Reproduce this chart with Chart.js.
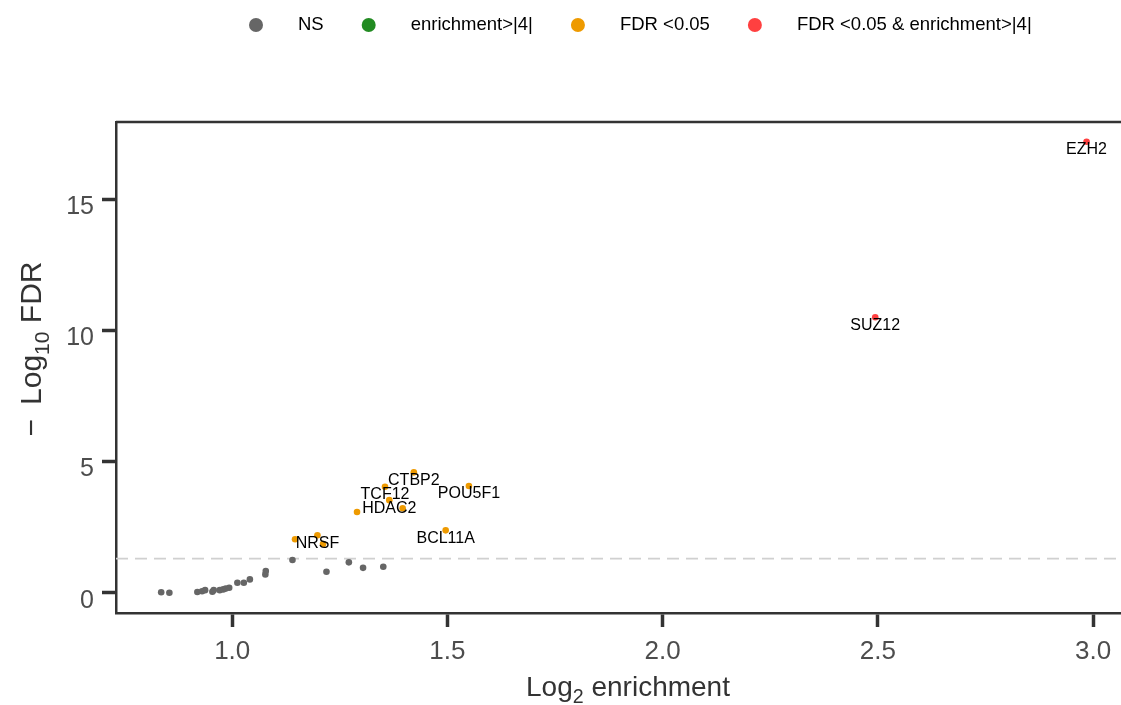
<!DOCTYPE html>
<html>
<head>
<meta charset="utf-8">
<title>Volcano plot</title>
<script src="https://cdn.jsdelivr.net/npm/chart.js@4.4.0/dist/chart.umd.min.js"></script>
<style>
  html, body { margin: 0; padding: 0; background: #fff; }
  #wrap { width: 1121px; height: 705px; position: relative; }
</style>
</head>
<body>
<div id="wrap"><canvas id="volcano"></canvas></div>
<script>
// --- values ---
const groupNames = ['NS', 'enrichment>|4|', 'FDR <0.05', 'FDR <0.05 & enrichment>|4|'];

const nsEnrich = [0.835, 0.854, 0.919, 0.930, 0.937, 0.954, 0.957, 0.971, 0.979, 0.985, 0.993,
                  1.012, 1.027, 1.041, 1.077, 1.078, 1.140, 1.219, 1.271, 1.304, 1.351];
const nsLogFdr = [0.02, 0.00, 0.03, 0.06, 0.10, 0.04, 0.10, 0.10, 0.13, 0.16, 0.19,
                  0.38, 0.38, 0.51, 0.70, 0.83, 1.25, 0.80, 1.16, 0.95, 0.99];

const enrichOnlyEnrich = [];
const enrichOnlyLogFdr = [];

const fdrEnrich = [1.422, 1.355, 1.550, 1.365, 1.396, 1.290, 1.496, 1.198, 1.146, 1.211];
const fdrLogFdr = [4.59, 4.04, 4.07, 3.53, 3.22, 3.08, 2.38, 2.19, 2.04, 1.86];
const fdrGenes  = ['CTBP2', 'TCF12', 'POU5F1', 'HDAC2', '', '', 'BCL11A', 'NRSF', '', ''];

const bothEnrich = [2.494, 2.985];
const bothLogFdr = [10.50, 17.19];
const bothGenes  = ['SUZ12', 'EZH2'];

const fdrCutoff = 0.05;
const xTicks = [1.0, 1.5, 2.0, 2.5, 3.0];
const yTicks = [0, 5, 10, 15];
const xMin = 0.73, xMax = 3.065;
const yMin = -0.77, yMax = 17.94;

// --- styling ---
const family = '"Liberation Sans", Arial, Helvetica, sans-serif';
const groupColors = ['#666666', '#228B22', '#EE9A00', '#FF4040'];

function toPoints(xs, ys) {
  return xs.map((x, i) => ({ x: x, y: ys[i] }));
}

// gene names next to the points
const pointLabels = {
  id: 'pointLabels',
  afterDatasetsDraw(chart) {
    const ctx = chart.ctx;
    ctx.save();
    ctx.font = '16px ' + family;
    ctx.fillStyle = '#000';
    ctx.textAlign = 'center';
    ctx.textBaseline = 'middle';
    chart.data.datasets.forEach((ds, di) => {
      if (!ds.genes) return;
      chart.getDatasetMeta(di).data.forEach((el, i) => {
        const name = ds.genes[i];
        if (name) ctx.fillText(name, el.x, el.y + 8);
      });
    });
    ctx.restore();
  }
};

// text with a subscript part, centred on x
function drawRich(ctx, parts, size, x, y) {
  const widths = parts.map(p => {
    ctx.font = (p.sub ? size * 0.7 : size) + 'px ' + family;
    return ctx.measureText(p.t).width + (p.gap || 0);
  });
  let cx = x - widths.reduce((a, b) => a + b, 0) / 2;
  parts.forEach((p, i) => {
    ctx.font = (p.sub ? size * 0.7 : size) + 'px ' + family;
    ctx.fillText(p.t, cx, p.sub ? y + size * 0.25 : y);
    cx += widths[i];
  });
}

const decorations = {
  id: 'decorations',
  afterDraw(chart) {
    const ctx = chart.ctx;
    const area = chart.chartArea;
    ctx.save();

    // top frame line
    ctx.strokeStyle = '#333';
    ctx.lineWidth = 2.5;
    ctx.beginPath();
    ctx.moveTo(area.left, area.top);
    ctx.lineTo(area.right, area.top);
    ctx.stroke();

    // axis titles
    ctx.fillStyle = '#333';
    ctx.textAlign = 'left';
    ctx.textBaseline = 'alphabetic';
    drawRich(ctx, [{ t: 'Log' }, { t: '2', sub: true }, { t: ' enrichment' }], 28, 628, 696);

    ctx.save();
    ctx.translate(41, 349);
    ctx.rotate(-Math.PI / 2);
    drawRich(ctx, [{ t: '\u2212', gap: 14 }, { t: 'Log' }, { t: '10', sub: true }, { t: ' FDR' }], 30, 0, 0);
    ctx.restore();

    // legend on top
    ctx.font = '18.5px ' + family;
    ctx.textBaseline = 'middle';
    let x = 249;
    const y = 25;
    groupNames.forEach((name, i) => {
      ctx.fillStyle = groupColors[i];
      ctx.beginPath();
      ctx.arc(x + 7, y, 7, 0, Math.PI * 2);
      ctx.fill();
      ctx.fillStyle = '#000';
      ctx.fillText(name, x + 49, y);
      x += 49 + ctx.measureText(name).width + 38;
    });

    ctx.restore();
  }
};

const pointStyle = (i) => ({
  backgroundColor: groupColors[i],
  borderWidth: 0,
  pointRadius: 3.3,
  pointHoverRadius: 3.3
});

new Chart(document.getElementById('volcano'), {
  type: 'scatter',
  data: {
    datasets: [
      Object.assign({ label: groupNames[3], data: toPoints(bothEnrich, bothLogFdr), genes: bothGenes }, pointStyle(3)),
      Object.assign({ label: groupNames[2], data: toPoints(fdrEnrich, fdrLogFdr), genes: fdrGenes }, pointStyle(2)),
      Object.assign({ label: groupNames[1], data: toPoints(enrichOnlyEnrich, enrichOnlyLogFdr) }, pointStyle(1)),
      Object.assign({ label: groupNames[0], data: toPoints(nsEnrich, nsLogFdr) }, pointStyle(0)),
      {
        type: 'line',
        label: 'cutoff',
        data: [{ x: xMin, y: -Math.log10(fdrCutoff) }, { x: xMax, y: -Math.log10(fdrCutoff) }],
        borderColor: '#d0d0d0',
        borderWidth: 1.6,
        borderDash: [12, 7],
        pointRadius: 0,
        showLine: true,
        fill: false
      }
    ]
  },
  options: {
    responsive: true,
    maintainAspectRatio: false,
    animation: false,
    layout: { autoPadding: false, padding: { top: 122, left: 0, right: 0, bottom: 0 } },
    plugins: {
      legend: { display: false },
      tooltip: { enabled: false }
    },
    scales: {
      x: {
        type: 'linear',
        min: xMin,
        max: xMax,
        afterFit: s => { s.height = 92; s.paddingLeft = 0; s.paddingRight = 0; },
        afterBuildTicks: s => { s.ticks = xTicks.map(v => ({ value: v })); },
        ticks: {
          callback: v => Number(v).toFixed(1),
          color: '#4d4d4d',
          font: { size: 26, family: family },
          padding: 9,
          maxRotation: 0,
          autoSkip: false
        },
        grid: { drawOnChartArea: false, drawTicks: true, tickLength: 14, tickWidth: 3.5, tickColor: '#333' },
        border: { display: true, color: '#333', width: 2.5 }
      },
      y: {
        type: 'linear',
        min: yMin,
        max: yMax,
        afterFit: s => { s.width = 116; s.paddingTop = 0; s.paddingBottom = 0; },
        afterBuildTicks: s => { s.ticks = yTicks.map(v => ({ value: v })); },
        ticks: {
          callback: v => String(v),
          color: '#4d4d4d',
          font: { size: 25, family: family },
          padding: 8,
          labelOffset: 8,
          autoSkip: false
        },
        grid: { drawOnChartArea: false, drawTicks: true, tickLength: 14, tickWidth: 3.5, tickColor: '#333' },
        border: { display: true, color: '#333', width: 2.5 }
      }
    }
  },
  plugins: [pointLabels, decorations]
});
</script>
</body>
</html>
